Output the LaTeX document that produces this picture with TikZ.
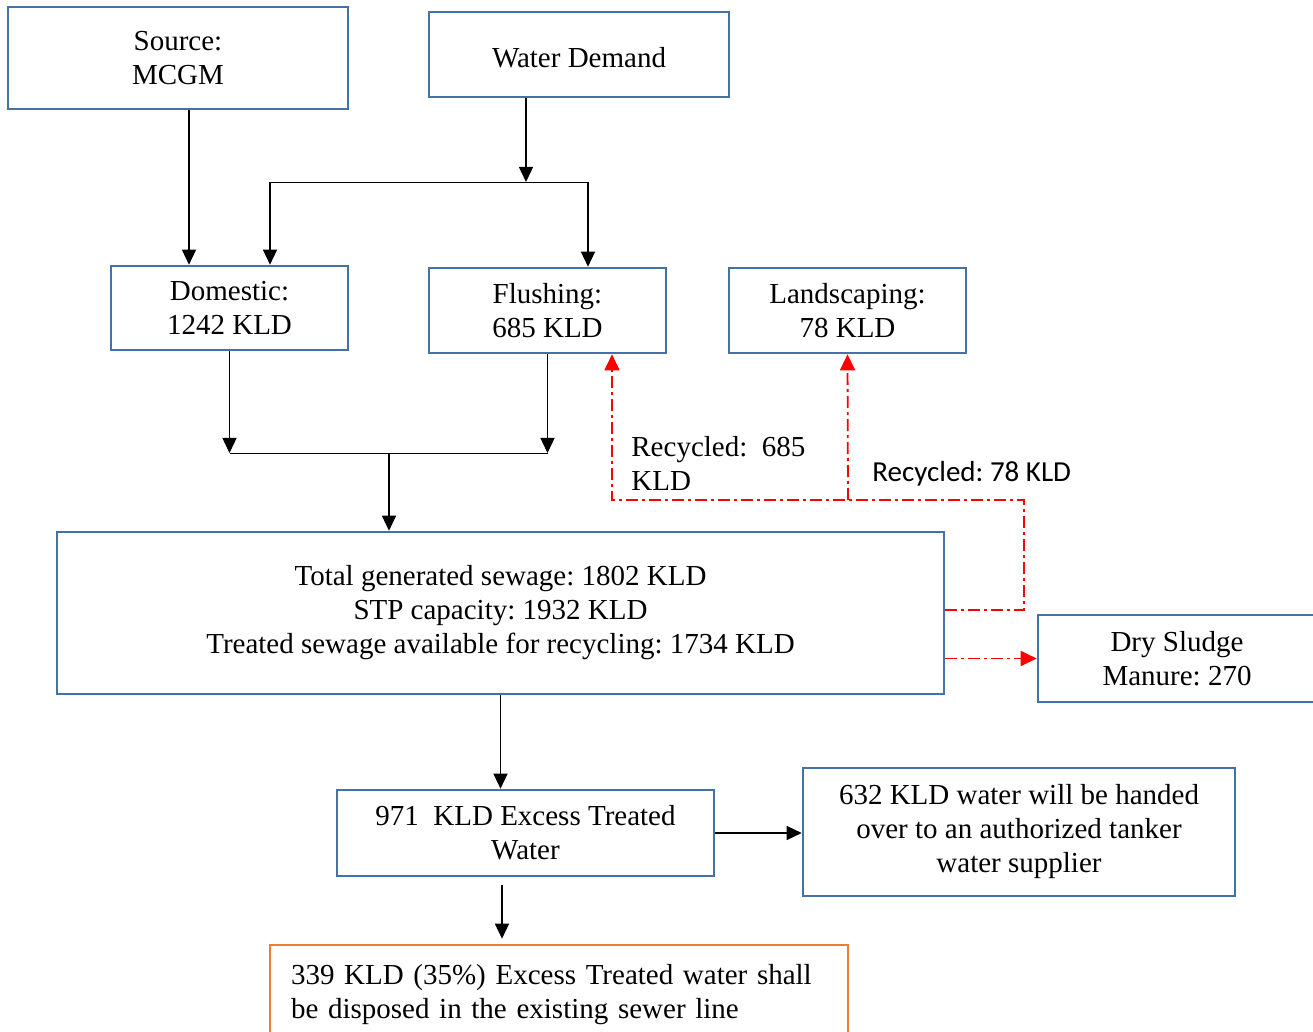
\documentclass[tikz,border=0pt]{standalone}
\usepackage{fontspec}
\setmainfont{Liberation Serif}
\newfontfamily\calibri{Carlito}
\usetikzlibrary{arrows.meta}
\definecolor{boxblue}{RGB}{68,114,166}
\definecolor{sewerorange}{RGB}{237,125,49}
\frenchspacing
\tikzset{
  box/.style={draw=boxblue, line width=1.3pt, align=center, inner sep=2pt},
  lowtext/.style={execute at begin node={\rule{0pt}{12.8pt}}},
  arr/.style={line width=0.7pt, -{Triangle[length=7.5pt,width=7pt]}},
  recyc/.style={red, line width=0.9pt, dash pattern=on 6pt off 2pt on 1.5pt off 2pt},
  redtip/.style={-{Triangle[length=8pt,width=7.5pt]}}
}

\begin{document}
\begin{tikzpicture}[x=0.5pt, y=-0.5pt, font=\fontsize{14.5}{17}\selectfont]
  \useasboundingbox (0,0) rectangle (1313,1032);
  % caixas de cima
  \node[box, lowtext, minimum width=170pt, minimum height=51pt] (src) at (178,58) {Source:\\MCGM};
  \node[box, lowtext, minimum width=150pt, minimum height=42.5pt] (dem) at (579,54.5) {Water Demand};
  \node[box, lowtext, minimum width=118.5pt, minimum height=42pt] (dom) at (229.5,308) {Domestic:\\1242 KLD};
  \node[box, lowtext, minimum width=118.5pt, minimum height=42.5pt] (flu) at (547.5,310.5) {Flushing:\\685 KLD};
  \node[box, lowtext, minimum width=118.5pt, minimum height=42.5pt] (lan) at (847.5,310.5) {Landscaping:\\78 KLD};
  % STP e saidas
  \node[box, lowtext, minimum width=443.5pt, minimum height=81pt] (stp) at (500.5,613) {Total generated sewage: 1802 KLD\\STP capacity: 1932 KLD\\Treated sewage available for recycling: 1734 KLD};
  \node[box, lowtext, minimum width=139pt, minimum height=43.5pt] (dry) at (1177,658.5) {Dry Sludge\\Manure: 270};
  \node[box, lowtext, minimum width=188.5pt, minimum height=43pt] (exc) at (525.5,833) {971~ KLD Excess Treated\\Water};
  \node[box, lowtext, minimum width=216pt, minimum height=64pt] (tank) at (1019,832) {632 KLD water will be handed\\over to an authorized tanker\\water supplier};
  \node[box, draw=sewerorange, align=left, text width=268pt, inner xsep=10.5pt, minimum height=50pt] (dis) at (559,995) {339 KLD (35\%) Excess Treated water shall\\be disposed in the existing sewer line};
  % textos de reciclagem
  \node[anchor=west, align=left, inner sep=0pt] (rec685) at (631,463) {Recycled:~ 685\\KLD};
  \node[anchor=west, inner sep=0pt, font=\calibri\fontsize{14.5}{17}\selectfont] (rec78) at (872,474) {Recycled: 78 KLD};

  % pontos de juncao
  \coordinate (splitL) at (270,182);
  \coordinate (splitM) at (526,182);
  \coordinate (splitR) at (588,182);
  \coordinate (mergeM) at (389,453);
  \coordinate (dropTop) at (502,885);
  \coordinate (loopC) at (1024,500);
  \coordinate (loopM) at (848,500);
  \coordinate (loopL) at (612,500);

  % setas pretas
  \draw[arr] ([xshift=5.5pt]src.south) -- ([xshift=5.5pt]src.south |- dom.north);
  \draw[arr] (dem.south -| splitM) -- (splitM);
  \draw (splitL) -- (splitR);
  \draw[arr] (splitL) -- (splitL |- dom.north);
  \draw[arr] (splitR) -- (splitR |- flu.north);
  \draw[arr] (dom.south) -- (dom.south |- mergeM);
  \draw[arr] (flu.south) -- (flu.south |- mergeM);
  \draw (dom.south |- mergeM) -- (flu.south |- mergeM);
  \draw[arr] (mergeM) -- (mergeM |- stp.north);
  \draw[arr] (stp.south) -- (stp.south |- exc.north);
  \draw[arr] (exc.east) -- (exc.east -| tank.west);
  \draw[arr, shorten >=2.5pt] (dropTop) -- (dropTop |- dis.north);

  % linhas vermelhas tracejadas
  \draw[recyc, redtip] ([yshift=1.5pt]stp.east) -| (loopC) -- (loopL) -- (loopL |- flu.south);
  \draw[recyc, redtip] (loopM) -- (lan.south);
  \draw[recyc, redtip] (stp.east |- dry.west) -- (dry.west);
\end{tikzpicture}
\end{document}
